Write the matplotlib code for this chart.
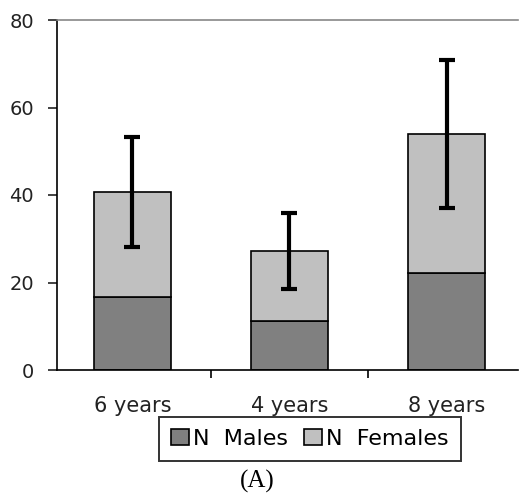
import matplotlib.pyplot as plt
import numpy as np

groups = ['6 years', '4 years', '8 years']
males = [16.7, 11.2, 22.2]
females = [24.0, 16.0, 31.8]
total_err = [12.6, 8.6, 16.9]

plt.rcParams['font.family'] = ['DejaVu Sans']

fig = plt.figure(figsize=(5.19, 4.93), dpi=100)
ax = fig.add_axes([57 / 519, 1 - 370 / 493, (518 - 57) / 519, 350 / 493])

x = np.arange(len(groups))
totals = [m + f for m, f in zip(males, females)]
b1 = ax.bar(x, males, width=0.49, color='#808080', edgecolor='black', linewidth=1.2, label='N  Males')
b2 = ax.bar(x, females, width=0.49, bottom=males, color='#c0c0c0', edgecolor='black', linewidth=1.2, label='N  Females')
ax.errorbar(x, totals, yerr=total_err, fmt='none', ecolor='black', elinewidth=3, capsize=5.5, capthick=3)

ax.set_xlim(-0.48, 2.455)
ax.set_ylim(0, 80)
ax.set_yticks([0, 20, 40, 60, 80])
ax.set_xticks(x)
ax.set_xticklabels(groups)
ax.set_xticks([0.5, 1.5], minor=True)
ax.tick_params(axis='x', which='major', length=0, pad=19, labelsize=15, colors='#222222')
ax.tick_params(axis='x', which='minor', length=6, width=1.2, direction='out')
ax.tick_params(axis='y', length=6.5, width=1.2, pad=10, labelsize=14, colors='#222222')

ax.spines['right'].set_visible(False)
ax.spines['top'].set_color('#888888')
ax.spines['top'].set_linewidth(1.2)
ax.spines['left'].set_linewidth(1.2)
ax.spines['bottom'].set_linewidth(1.2)

leg = fig.legend(handles=[b1, b2], loc='center', bbox_to_anchor=(310 / 519, 1 - 439 / 493),
                 ncol=2, frameon=True, fancybox=False, edgecolor='black', fontsize=16,
                 handlelength=0.8, handleheight=0.7, handletextpad=0.2, columnspacing=0.7,
                 borderpad=0.55)
leg.get_frame().set_linewidth(1.4)

fig.text(257 / 519, 1 - 481 / 493, '(A)', ha='center', va='center', fontsize=18, family='Liberation Serif')

fig.savefig('out.png', dpi=100)
